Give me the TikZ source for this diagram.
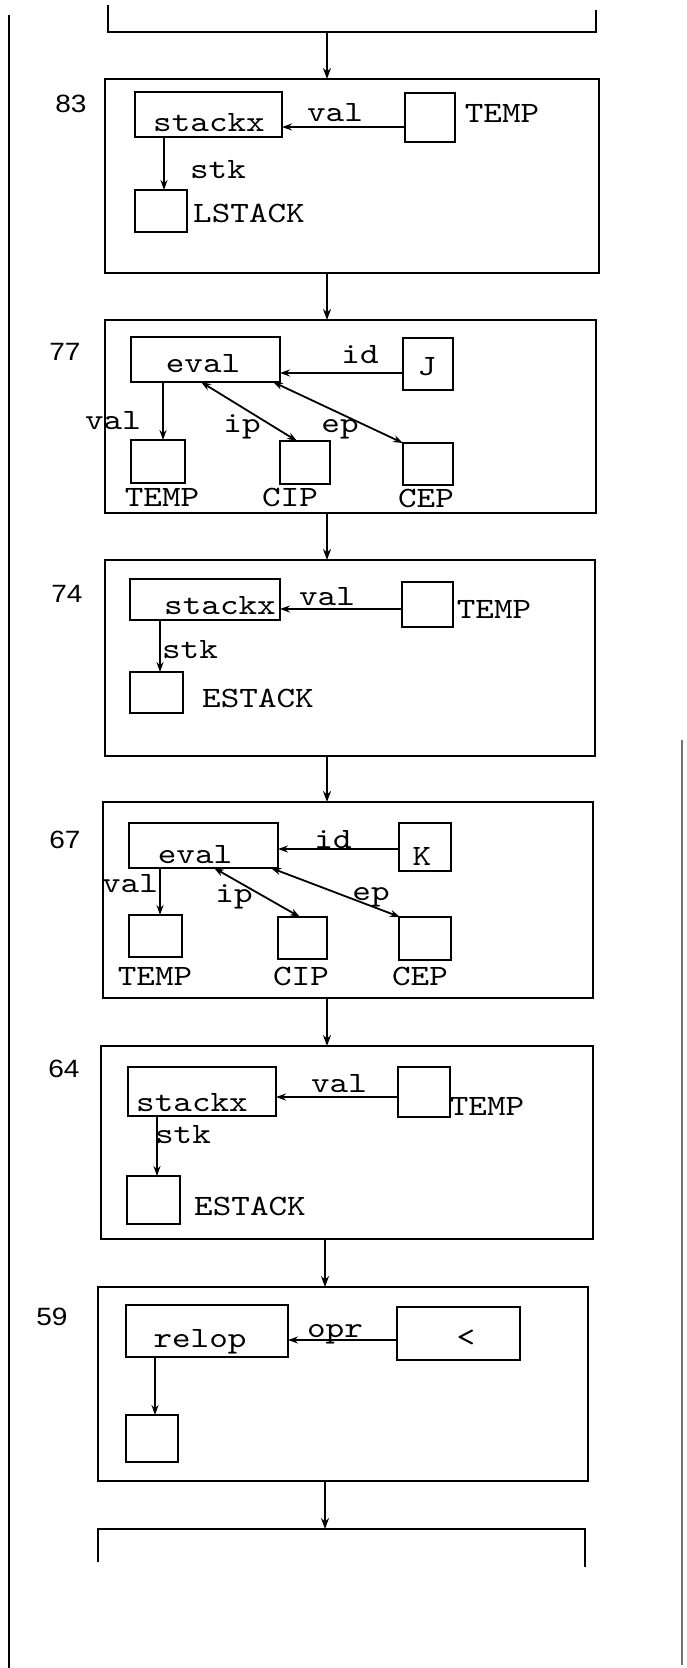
\documentclass[tikz,border=0pt]{standalone}
\usepackage{fontspec}
\usetikzlibrary{arrows.meta,fit}
\newfontfamily\tw[FakeStretch=1.2]{lmmono10-regular.otf}
\newfontfamily\nf[FakeStretch=1.12]{Liberation Sans}
\tikzset{
  frame/.style={draw, line width=2pt, inner sep=0pt, outer sep=0pt},
  bx/.style={draw, line width=2.2pt, inner sep=0pt, outer sep=0pt},
  txt/.style={font=\tw\fontsize{29.5}{30}\selectfont, inner sep=0pt, anchor=base},
  num/.style={font=\nf\fontsize{25}{27}\selectfont, inner sep=0pt, anchor=base},
  arr/.style={line width=2pt, -{Stealth[length=11pt,width=8pt]}},
  iarr/.style={line width=1.8pt, -{Stealth[length=10pt,width=7pt]}},
  darr/.style={line width=1.8pt, {Stealth[length=10pt,width=7pt]}-{Stealth[length=10pt,width=7pt]}},
  rail/.style={line width=1.6pt}
}
\begin{document}
\begin{tikzpicture}[x=1pt,y=-1pt]
\useasboundingbox (0,0) rectangle (686,1668);
% side rails
\draw[rail] (9,15) -- (9,1668);
\draw[rail, black!55] (682,740) -- (682,1665);
% top bracket
\draw[line width=2pt] (108,5) |- (596,32) -- (596,10);
\coordinate (topmid) at (327,32);
% ---------- 83 ----------
\node[frame, fit={(105,79) (599,273)}] (b83) {};
\node[num] (n83) at (71,112) {83};
\node[bx, fit={(135,92) (282,137)}] (s83) {};
\node[txt] (s83t) at (209,131) {stackx};
\node[bx, fit={(405,93) (455,142)}] (t83) {};
\node[txt] (t83t) at (502,122) {TEMP};
\node[bx, fit={(135,190) (187,232)}] (l83) {};
\node[txt] (l83t) at (249,222) {LSTACK};
\node[txt] (v83) at (335,121) {val};
\node[txt] (k83) at (218,178) {stk};
\draw[iarr] (t83.west |- 0,127) -- (s83.east |- 0,127);
\draw[iarr] (s83.south -| 164,0) -- (l83.north -| 164,0);
\draw[arr] (topmid) -- (topmid |- b83.north);
% ---------- 77 ----------
\coordinate (a1) at (327,0);
\node[frame, fit={(105,320) (596,513)}] (b77) {};
\draw[arr] (a1 |- b83.south) -- (a1 |- b77.north);
\node[num] (n77) at (65,360) {77};
\node[bx, fit={(131,337) (280,382)}] (e77) {};
\node[txt] (e77t) at (203,372) {eval};
\node[bx, fit={(403,338) (453,390)}] (j77) {};
\node[txt] (j77t) at (427,375) {J};
\node[bx, fit={(131,440) (185,483)}] (tp77) {};
\node[bx, fit={(280,441) (330,484)}] (ci77) {};
\node[bx, fit={(403,443) (453,485)}] (ce77) {};
\node[txt] (tp77t) at (162,506) {TEMP};
\node[txt] (ci77t) at (290,506) {CIP};
\node[txt] (ce77t) at (426,507) {CEP};
\node[txt] (id77) at (360,363) {id};
\node[txt] (v77) at (113,429) {val};
\node[txt] (ip77) at (242,432) {ip};
\node[txt] (ep77) at (340,432) {ep};
\draw[iarr] (j77.west |- 0,373) -- (e77.east |- 0,373);
\draw[iarr] (e77.south -| 163,0) -- (tp77.north -| 163,0);
\draw[darr] (e77.south -| 201,0) -- (ci77.north -| 297,0);
\draw[darr] (e77.south -| 273,0) -- (ce77.north -| 403,0);
% ---------- 74 ----------
\node[frame, fit={(105,560) (595,756)}] (b74) {};
\draw[arr] (a1 |- b77.south) -- (a1 |- b74.north);
\node[num] (n74) at (67,602) {74};
\node[bx, fit={(130,579) (280,620)}] (s74) {};
\node[txt] (s74t) at (220,614) {stackx};
\node[bx, fit={(402,582) (453,627)}] (t74) {};
\node[txt] (t74t) at (494,618) {TEMP};
\node[bx, fit={(130,672) (183,713)}] (e74) {};
\node[txt] (e74t) at (258,707) {ESTACK};
\node[txt] (v74) at (327,605) {val};
\node[txt] (k74) at (190,658) {stk};
\draw[iarr] (t74.west |- 0,609) -- (s74.east |- 0,609);
\draw[iarr] (s74.south -| 160,0) -- (e74.north -| 160,0);
% ---------- 67 ----------
\node[frame, fit={(103,802) (593,998)}] (b67) {};
\draw[arr] (a1 |- b74.south) -- (a1 |- b67.north);
\node[num] (n67) at (65,848) {67};
\node[bx, fit={(129,823) (278,868)}] (e67) {};
\node[txt] (e67t) at (195,863) {eval};
\node[bx, fit={(399,823) (451,871)}] (k67) {};
\node[txt] (k67t) at (422,865) {K};
\node[bx, fit={(129,915) (182,957)}] (tp67) {};
\node[bx, fit={(278,917) (327,959)}] (ci67) {};
\node[bx, fit={(399,917) (451,960)}] (ce67) {};
\node[txt] (tp67t) at (155,985) {TEMP};
\node[txt] (ci67t) at (301,985) {CIP};
\node[txt] (ce67t) at (420,985) {CEP};
\node[txt] (id67) at (333,848) {id};
\node[txt] (v67) at (130,892) {val};
\node[txt] (ip67) at (234,902) {ip};
\node[txt] (ep67) at (371,900) {ep};
\draw[iarr] (k67.west |- 0,849) -- (e67.east |- 0,849);
\draw[iarr] (e67.south -| 160,0) -- (tp67.north -| 160,0);
\draw[darr] (e67.south -| 214,0) -- (ci67.north -| 300,0);
\draw[darr] (e67.south -| 271,0) -- (ce67.north -| 400,0);
% ---------- 64 ----------
\node[frame, fit={(101,1046) (593,1239)}] (b64) {};
\draw[arr] (a1 |- b67.south) -- (a1 |- b64.north);
\node[num] (n64) at (64,1077) {64};
\node[bx, fit={(128,1067) (276,1116)}] (s64) {};
\node[txt] (s64t) at (192,1111) {stackx};
\node[bx, fit={(398,1067) (450,1117)}] (t64) {};
\node[txt] (t64t) at (487,1115) {TEMP};
\node[bx, fit={(127,1176) (180,1224)}] (e64) {};
\node[txt] (e64t) at (250,1215) {ESTACK};
\node[txt] (v64) at (339,1092) {val};
\node[txt] (k64) at (183,1143) {stk};
\draw[iarr] (t64.west |- 0,1097) -- (s64.east |- 0,1097);
\draw[iarr] (s64.south -| 157,0) -- (e64.north -| 157,0);
% ---------- 59 ----------
\coordinate (a2) at (325,0);
\node[frame, fit={(98,1287) (588,1481)}] (b59) {};
\draw[arr] (a2 |- b64.south) -- (a2 |- b59.north);
\node[num] (n59) at (52,1325) {59};
\node[bx, fit={(126,1305) (288,1357)}] (r59) {};
\node[txt] (r59t) at (200,1347) {relop};
\node[bx, fit={(397,1307) (520,1360)}] (lt59) {};
\node[txt, anchor=center] (lt59t) at (466,1338) {<};
\node[bx, fit={(126,1415) (178,1462)}] (o59) {};
\node[txt] (opr59) at (335,1337) {opr};
\draw[iarr] (lt59.west |- 0,1340) -- (r59.east |- 0,1340);
\draw[iarr] (r59.south -| 155,0) -- (o59.north -| 155,0);
% bottom bracket
\coordinate (botmid) at (325,1529);
\draw[line width=2pt] (98,1562) |- (585,1529) -- (585,1567);
\draw[arr] (a2 |- b59.south) -- (botmid);
\end{tikzpicture}
\end{document}
